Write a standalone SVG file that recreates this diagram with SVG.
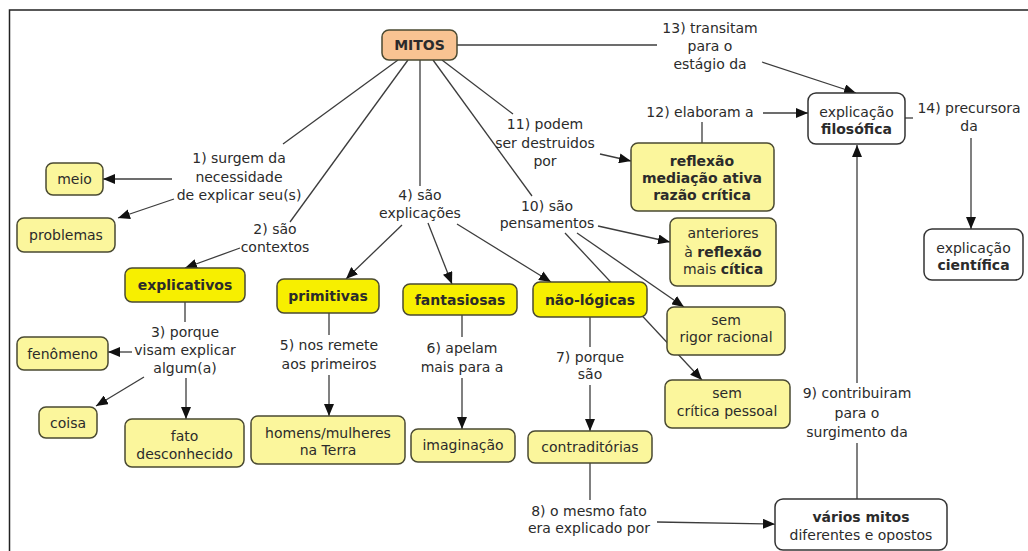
<svg xmlns="http://www.w3.org/2000/svg" width="1028" height="551" viewBox="0 0 1028 551">
<style>
text{font-family:"DejaVu Sans",Verdana,sans-serif;font-size:14px;fill:#2b2b2b;text-anchor:middle}
.b{font-weight:bold}
.lbl{fill:#3a3a3a}
.n rect{stroke:#4a4a32;stroke-width:1.5}
.pale rect{fill:#fbf69c}
.bright rect{fill:#f7ef00}
.white rect{fill:#ffffff;stroke:#333}
.peach rect{fill:#f8c392}
.c line,.c path{stroke:#3c3c3c;stroke-width:1.3;fill:none}
</style>
<defs>
<marker id="ah" viewBox="0 0 12 10" refX="12" refY="5" markerWidth="12" markerHeight="10" orient="auto" markerUnits="userSpaceOnUse"><path d="M0,0 L12,5 L0,10 z" fill="#111"/></marker>
</defs>
<rect x="0" y="0" width="1028" height="551" fill="#ffffff"/>
<path d="M9.5,551 V10 H1028" fill="none" stroke="#222" stroke-width="1.5"/>

<g class="c" id="connectors">
<!-- 13 -->
<line x1="457" y1="45" x2="657" y2="45"/>
<line x1="762" y1="62" x2="856" y2="93" marker-end="url(#ah)"/>
<!-- 12 -->
<line x1="702" y1="143" x2="702" y2="122"/>
<line x1="763" y1="113" x2="808" y2="113" marker-end="url(#ah)"/>
<!-- 14 -->
<line x1="905" y1="118" x2="913" y2="118"/>
<line x1="971" y1="138" x2="971" y2="229" marker-end="url(#ah)"/>
<!-- 9 -->
<line x1="857" y1="499" x2="857" y2="443"/>
<line x1="857" y1="383" x2="857" y2="145" marker-end="url(#ah)"/>
<!-- 8 -->
<line x1="590" y1="463" x2="590" y2="500"/>
<line x1="657" y1="522" x2="775" y2="524" marker-end="url(#ah)"/>
<!-- 7 -->
<line x1="590" y1="317" x2="590" y2="347"/>
<line x1="590" y1="385" x2="590" y2="431" marker-end="url(#ah)"/>
<!-- 6 -->
<line x1="462" y1="315" x2="462" y2="337"/>
<line x1="462" y1="378" x2="462" y2="429" marker-end="url(#ah)"/>
<!-- 5 -->
<line x1="329" y1="313" x2="329" y2="335"/>
<line x1="329" y1="375" x2="329" y2="416" marker-end="url(#ah)"/>
<!-- 3 -->
<line x1="185" y1="302" x2="185" y2="322"/>
<line x1="132" y1="352" x2="108" y2="352" marker-end="url(#ah)"/>
<line x1="144" y1="377" x2="96" y2="406" marker-end="url(#ah)"/>
<line x1="186" y1="378" x2="186" y2="419" marker-end="url(#ah)"/>
<!-- 2 -->
<line x1="408" y1="60" x2="290" y2="222"/>
<line x1="240" y1="248" x2="185" y2="268" marker-end="url(#ah)"/>
<!-- 1 -->
<line x1="398" y1="60" x2="283" y2="144"/>
<line x1="172" y1="179" x2="103" y2="179" marker-end="url(#ah)"/>
<line x1="174" y1="199" x2="118" y2="218" marker-end="url(#ah)"/>
<!-- 4 -->
<line x1="420" y1="60" x2="420" y2="186"/>
<line x1="402" y1="225" x2="346" y2="279" marker-end="url(#ah)"/>
<line x1="428" y1="223" x2="452" y2="284" marker-end="url(#ah)"/>
<line x1="457" y1="224" x2="551" y2="282" marker-end="url(#ah)"/>
<!-- 10 -->
<line x1="433" y1="60" x2="532" y2="196"/>
<line x1="598" y1="226" x2="670" y2="242" marker-end="url(#ah)"/>
<line x1="577" y1="233" x2="684" y2="307" marker-end="url(#ah)"/>
<line x1="565" y1="233" x2="702" y2="380" marker-end="url(#ah)"/>
<!-- 11 -->
<line x1="442" y1="60" x2="513" y2="114"/>
<line x1="600" y1="154" x2="631" y2="161" marker-end="url(#ah)"/>
</g>

<g id="labels" class="lbl">
<text x="710" y="33">13) transitam</text>
<text x="710" y="51">para o</text>
<text x="710" y="69">estágio da</text>
<text x="700" y="117">12) elaboram a</text>
<text x="969" y="113">14) precursora</text>
<text x="969" y="131">da</text>
<text x="857" y="398">9) contribuiram</text>
<text x="857" y="418">para o</text>
<text x="857" y="437">surgimento da</text>
<text x="589" y="516">8) o mesmo fato</text>
<text x="589" y="533">era explicado por</text>
<text x="590" y="362">7) porque</text>
<text x="590" y="379">são</text>
<text x="462" y="353">6) apelam</text>
<text x="462" y="372">mais para a</text>
<text x="329" y="350">5) nos remete</text>
<text x="329" y="369">aos primeiros</text>
<text x="185" y="337">3) porque</text>
<text x="185" y="355">visam explicar</text>
<text x="185" y="373">algum(a)</text>
<text x="275" y="234">2) são</text>
<text x="275" y="252">contextos</text>
<text x="239" y="163">1) surgem da</text>
<text x="239" y="182">necessidade</text>
<text x="239" y="200">de explicar seu(s)</text>
<text x="420" y="200">4) são</text>
<text x="420" y="218">explicações</text>
<text x="547" y="211">10) são</text>
<text x="547" y="228">pensamentos</text>
<text x="545" y="129">11) podem</text>
<text x="545" y="148">ser destruidos</text>
<text x="545" y="166">por</text>
</g>

<g id="mitos" class="n peach"><rect x="382" y="30" width="75" height="30" rx="7"/><text class="b" x="419.5" y="50">MITOS</text></g>
<g id="meio" class="n pale"><rect x="46" y="163" width="57" height="32" rx="7"/><text x="74.5" y="184">meio</text></g>
<g id="problemas" class="n pale"><rect x="17" y="218" width="98" height="34" rx="7"/><text x="66" y="240">problemas</text></g>
<g id="explicativos" class="n bright"><rect x="125" y="268" width="120" height="34" rx="7"/><text class="b" x="185" y="290">explicativos</text></g>
<g id="primitivas" class="n bright"><rect x="277" y="279" width="102" height="34" rx="7"/><text class="b" x="328" y="301">primitivas</text></g>
<g id="fantasiosas" class="n bright"><rect x="403" y="284" width="114" height="31" rx="7"/><text class="b" x="460" y="305">fantasiosas</text></g>
<g id="naologicas" class="n bright"><rect x="533" y="282" width="114" height="35" rx="7"/><text class="b" x="590" y="305">não-lógicas</text></g>
<g id="fenomeno" class="n pale"><rect x="17" y="337" width="91" height="33" rx="7"/><text x="62.5" y="358.5">fenômeno</text></g>
<g id="coisa" class="n pale"><rect x="39" y="407" width="58" height="31" rx="7"/><text x="68" y="427.5">coisa</text></g>
<g id="fato" class="n pale"><rect x="125" y="419" width="119" height="48" rx="7"/><text x="184.5" y="441">fato</text><text x="184.5" y="459">desconhecido</text></g>
<g id="homens" class="n pale"><rect x="251" y="416" width="154" height="48" rx="7"/><text x="328" y="438">homens/mulheres</text><text x="328" y="455">na Terra</text></g>
<g id="imaginacao" class="n pale"><rect x="411" y="429" width="104" height="33" rx="7"/><text x="463" y="450">imaginação</text></g>
<g id="contraditorias" class="n pale"><rect x="528" y="431" width="124" height="32" rx="7"/><text x="590" y="452">contraditórias</text></g>
<g id="reflexao" class="n pale"><rect x="631" y="143" width="143" height="68" rx="7"/><text class="b" x="702" y="166">reflexão</text><text class="b" x="702" y="183">mediação ativa</text><text class="b" x="702" y="200">razão crítica</text></g>
<g id="anteriores" class="n pale"><rect x="670" y="218" width="106" height="68" rx="7"/><text x="723" y="238">anteriores</text><text x="723" y="257">à <tspan class="b">reflexão</tspan></text><text x="723" y="274">mais <tspan class="b">cítica</tspan></text></g>
<g id="semrigor" class="n pale"><rect x="667" y="307" width="118" height="48" rx="7"/><text x="726" y="325">sem</text><text x="726" y="342">rigor racional</text></g>
<g id="semcritica" class="n pale"><rect x="665" y="380" width="125" height="48" rx="7"/><text x="727" y="398">sem</text><text x="727" y="416">crítica pessoal</text></g>
<g id="filosofica" class="n white"><rect x="808" y="93" width="97" height="51" rx="8"/><text x="856.5" y="117">explicação</text><text class="b" x="856.5" y="134">filosófica</text></g>
<g id="cientifica" class="n white"><rect x="924" y="229" width="99" height="51" rx="8"/><text x="973.5" y="253">explicação</text><text class="b" x="973.5" y="270">científica</text></g>
<g id="variosmitos" class="n white"><rect x="775" y="499" width="172" height="51" rx="8"/><text class="b" x="861" y="522">vários mitos</text><text x="861" y="540">diferentes e opostos</text></g>
</svg>
